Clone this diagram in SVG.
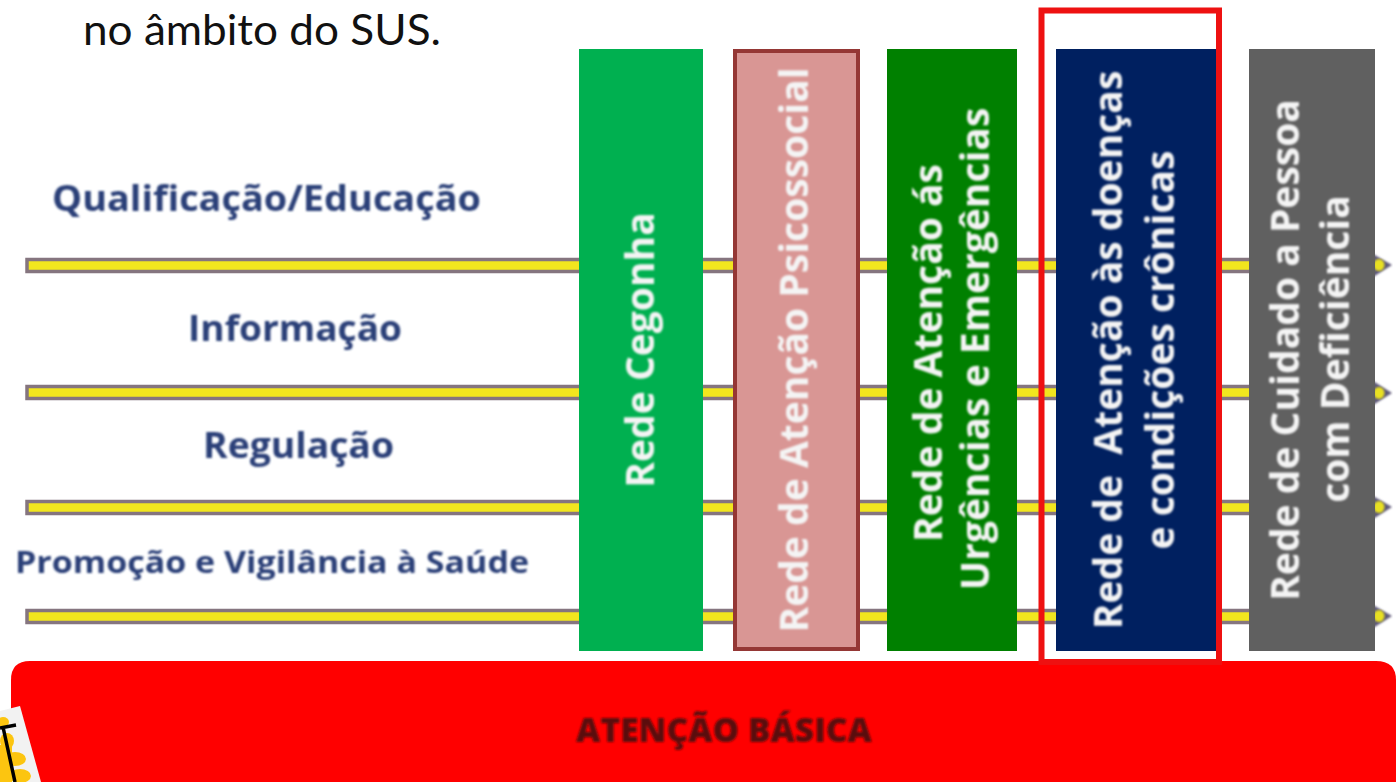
<svg xmlns="http://www.w3.org/2000/svg" width="1396" height="782" viewBox="0 0 1396 782">
<defs><filter id="soft" x="-5%" y="-5%" width="110%" height="110%"><feGaussianBlur stdDeviation="0.8"/></filter></defs>
<style>
text{font-family:"Open Sans","Noto Sans",sans-serif}
.lab{fill:#2b3f78;font-weight:700;text-anchor:middle;filter:url(#soft)}
.v{fill:#f4f4f4;font-size:39px;font-weight:700;text-anchor:middle;filter:url(#soft)}
.bar{fill:#f2e61e;stroke:#85757f;stroke-width:3.500}
.tip{fill:#5f5a78;filter:url(#soft)}
.dot{fill:#e8e020;filter:url(#soft)}
</style>
<rect width="1396" height="782" fill="#fff"/>
<text id="top-text" x="83" y="45" font-size="43" fill="#111" style="font-family:Lato,'Open Sans',sans-serif" textLength="358" lengthAdjust="spacingAndGlyphs">no âmbito do SUS.</text>
<g id="connectors">
<rect class="bar" x="27" y="259.500" width="1345" height="12"/><path class="tip" d="M1373 254L1392 265L1373 277Z"/><ellipse class="dot" cx="1379" cy="265" rx="5.500" ry="6"/>
<rect class="bar" x="27" y="386.500" width="1345" height="12"/><path class="tip" d="M1373 381L1392 393L1373 405Z"/><ellipse class="dot" cx="1379" cy="393" rx="5.500" ry="6"/>
<rect class="bar" x="27" y="501.500" width="1345" height="12"/><path class="tip" d="M1373 496L1392 507L1373 519Z"/><ellipse class="dot" cx="1379" cy="507" rx="5.500" ry="6"/>
<rect class="bar" x="27" y="610.500" width="1345" height="12"/><path class="tip" d="M1373 605L1392 616L1373 628Z"/><ellipse class="dot" cx="1379" cy="616" rx="5.500" ry="6"/>
</g>
<g id="label-qualificacao"><text class="lab" x="266.500" y="211" font-size="35" textLength="429" lengthAdjust="spacingAndGlyphs">Qualificação/Educação</text></g>
<g id="label-informacao"><text class="lab" x="295" y="341" font-size="35" textLength="214" lengthAdjust="spacingAndGlyphs">Informação</text></g>
<g id="label-regulacao"><text class="lab" x="298.500" y="458" font-size="35" textLength="191" lengthAdjust="spacingAndGlyphs">Regulação</text></g>
<g id="label-promocao"><text class="lab" x="272" y="573" font-size="30" textLength="514" lengthAdjust="spacingAndGlyphs">Promoção e Vigilância à Saúde</text></g>
<g id="rede-cegonha"><rect x="579" y="49" width="124" height="602" fill="#00b050"/>
<text class="v" transform="translate(654,350) rotate(-90)">Rede Cegonha</text></g>
<g id="rede-psicossocial"><rect x="735" y="51" width="123" height="598" fill="#d99694" stroke="#953735" stroke-width="4"/>
<text class="v" transform="translate(808,350) rotate(-90)">Rede de Atenção Psicossocial</text></g>
<g id="rede-urgencias"><rect x="887" y="49" width="130" height="602" fill="#008000"/>
<text class="v" transform="translate(942,353) rotate(-90)">Rede de Atenção ás</text>
<text class="v" transform="translate(989,349) rotate(-90)">Urgências e Emergências</text></g>
<g id="rede-cronicas"><rect x="1056" y="49" width="160" height="602" fill="#002060"/>
<text class="v" transform="translate(1122,350) rotate(-90)" xml:space="preserve">Rede de  Atenção às doenças</text>
<text class="v" transform="translate(1174,350) rotate(-90)">e condições crônicas</text></g>
<g id="rede-deficiencia"><rect x="1249" y="49" width="126" height="602" fill="#606060"/>
<text class="v" transform="translate(1299,350) rotate(-90)">Rede de Cuidado a Pessoa</text>
<text class="v" transform="translate(1349,349) rotate(-90)">com Deficiência</text></g>
<g id="atencao-basica"><path d="M11 782V680Q11 661 30 661H1376Q1396 661 1396 680V782Z" fill="#ff0000"/>
<text x="724" y="742" font-size="33.500" font-weight="800" text-anchor="middle" fill="#5a1010" filter="url(#soft)">ATENÇÃO BÁSICA</text></g>
<g id="highlight"><rect x="1041.500" y="10.500" width="177.500" height="651.500" fill="none" stroke="#ee1111" stroke-width="6"/></g>
<g id="corner-icon">
<path d="M0 711L20 706L41 782H0Z" fill="#f2f2f2"/>
<g fill="#fcc510"><ellipse cx="3" cy="722" rx="6" ry="5"/><ellipse cx="7" cy="741" rx="7" ry="8"/><ellipse cx="15" cy="759" rx="11" ry="7"/><ellipse cx="20" cy="776" rx="11" ry="7"/><rect x="0" y="745" width="12" height="37"/></g>
<path d="M0 728L16 725M3 727L15 782" fill="none" stroke="#000" stroke-width="3.500"/>
</g>
</svg>
